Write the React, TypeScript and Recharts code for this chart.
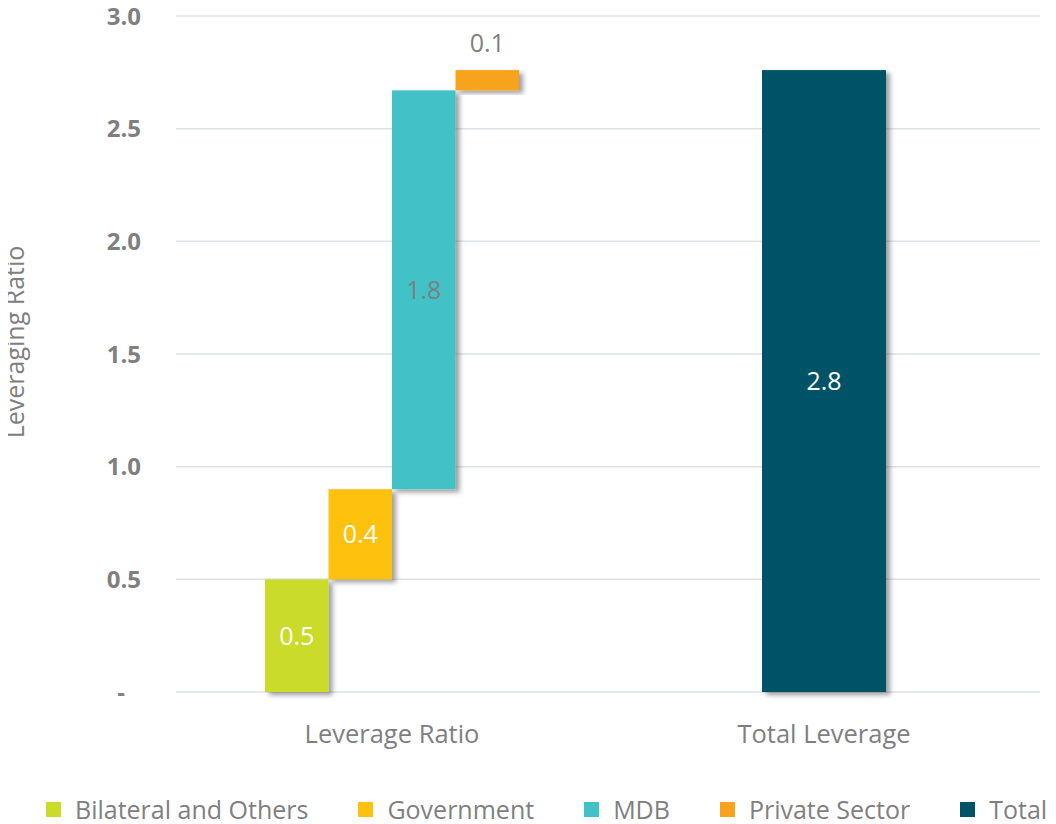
import { Bar, BarChart, CartesianGrid, LabelList, XAxis, YAxis } from "recharts";

const categories = ["Leverage Ratio", "Total Leverage"];
const sources = ["Bilateral and Others", "Government", "MDB", "Private Sector"];
const contributions = [0.5, 0.4, 1.77, 0.09];
const totalName = "Total";
const yTicks = [0, 0.5, 1, 1.5, 2, 2.5, 3];

const SOURCE_COLORS = ["#cadb2a", "#fec10f", "#42c1c7", "#f8a31e"];
const TOTAL_COLOR = "#005366";
const SOURCE_LABEL_COLORS = ["#ffffff", "#ffffff", "#7f7f7f", "#7f7f7f"];

const FONT = "'Open Sans', 'Noto Sans', sans-serif";
const TEXT_GREY = "#7f7f7f";

// waterfall: each step floats on top of the previous ones
let running = 0;
const steps = contributions.map((v) => {
  const range = [running, running + v];
  running += v;
  return range;
});
const total = running;

const row0: Record<string, any> = { name: categories[0] };
steps.forEach((r, i) => {
  row0[`s${i}`] = r;
  row0[`l${i}`] = contributions[i].toFixed(1);
});
const chartData = [
  row0,
  { name: categories[1], total: [0, total], totalLabel: total.toFixed(1) },
];

function ShadowBar(props: any) {
  const { x, y, width, height, fill } = props;
  if (height == null || Math.abs(height) < 0.01) return null;
  const top = Math.min(y, y + height);
  return (
    <rect
      x={x}
      y={top}
      width={width}
      height={Math.abs(height)}
      fill={fill}
      filter="url(#barShadow)"
    />
  );
}

function YTick({ x, y, payload }: any) {
  const v = payload.value as number;
  return (
    <text
      x={v === 0 ? x - 16 : x}
      y={y}
      dy="0.355em"
      textAnchor="end"
      fill={TEXT_GREY}
      fontSize={24}
      fontWeight={700}
      fontFamily={FONT}
    >
      {v === 0 ? "-" : v.toFixed(1)}
    </text>
  );
}

function YTitle({ viewBox }: any) {
  const cx = 15;
  const cy = viewBox.y + viewBox.height / 2 - 12;
  return (
    <text
      x={cx}
      y={cy}
      dy="0.355em"
      transform={`rotate(-90, ${cx}, ${cy})`}
      textAnchor="middle"
      fill={TEXT_GREY}
      fontSize={25}
      fontFamily={FONT}
    >
      Leveraging Ratio
    </text>
  );
}

const legendItems = [
  ...sources.map((s, i) => ({ name: s, color: SOURCE_COLORS[i] })),
  { name: totalName, color: TOTAL_COLOR },
];

export default function App() {
  return (
    <div style={{ width: 1048, marginLeft: -8, marginTop: -8, fontFamily: FONT }}>
      <BarChart
        width={1048}
        height={768}
        data={chartData}
        barGap={0}
        margin={{ top: 16, right: 8, left: 8, bottom: 26 }}
      >
        <defs>
          <filter id="barShadow" x="-20%" y="-20%" width="140%" height="140%">
            <feDropShadow dx={4} dy={3} stdDeviation={2.5} floodColor="#000" floodOpacity={0.38} />
          </filter>
        </defs>
        <CartesianGrid stroke="#dde1e6" strokeWidth={1.5} vertical={false} />
        <XAxis
          xAxisId="steps"
          dataKey="name"
          height={50}
          tickSize={0}
          tickMargin={33}
          axisLine={false}
          tick={{ fill: TEXT_GREY, fontSize: 25.5, fontFamily: FONT }}
        />
        <XAxis xAxisId="total" dataKey="name" hide />
        <YAxis
          width={168}
          domain={[0, 3]}
          ticks={yTicks}
          interval={0}
          tickSize={0}
          tickMargin={35}
          axisLine={false}
          tickLine={false}
          tick={<YTick />}
          label={<YTitle />}
        />
        {sources.map((s, i) => (
          <Bar
            key={s}
            xAxisId="steps"
            dataKey={`s${i}`}
            name={s}
            fill={SOURCE_COLORS[i]}
            barSize={63.5}
            shape={<ShadowBar />}
            isAnimationActive={false}
          >
            <LabelList
              dataKey={`l${i}`}
              position={i === 3 ? "top" : "center"}
              offset={18}
              fill={SOURCE_LABEL_COLORS[i]}
              fontSize={25}
              fontFamily={FONT}
            />
          </Bar>
        ))}
        <Bar
          xAxisId="total"
          dataKey="total"
          name={totalName}
          fill={TOTAL_COLOR}
          barSize={124}
          shape={<ShadowBar />}
          isAnimationActive={false}
        >
          <LabelList
            dataKey="totalLabel"
            position="center"
            fill="#ffffff"
            fontSize={25}
            fontFamily={FONT}
          />
        </Bar>
      </BarChart>

      <div
        style={{
          display: "flex",
          alignItems: "center",
          paddingLeft: 46,
          marginTop: 27,
          fontSize: 25,
          lineHeight: "28px",
          color: TEXT_GREY,
          whiteSpace: "nowrap",
        }}
      >
        {legendItems.map((it, i) => (
          <span
            key={it.name}
            style={{
              display: "flex",
              alignItems: "center",
              marginRight: i < legendItems.length - 1 ? 50 : 0,
            }}
          >
            <span
              style={{
                display: "inline-block",
                width: 15,
                height: 15,
                backgroundColor: it.color,
                marginRight: 14,
              }}
            />
            {it.name}
          </span>
        ))}
      </div>
    </div>
  );
}
